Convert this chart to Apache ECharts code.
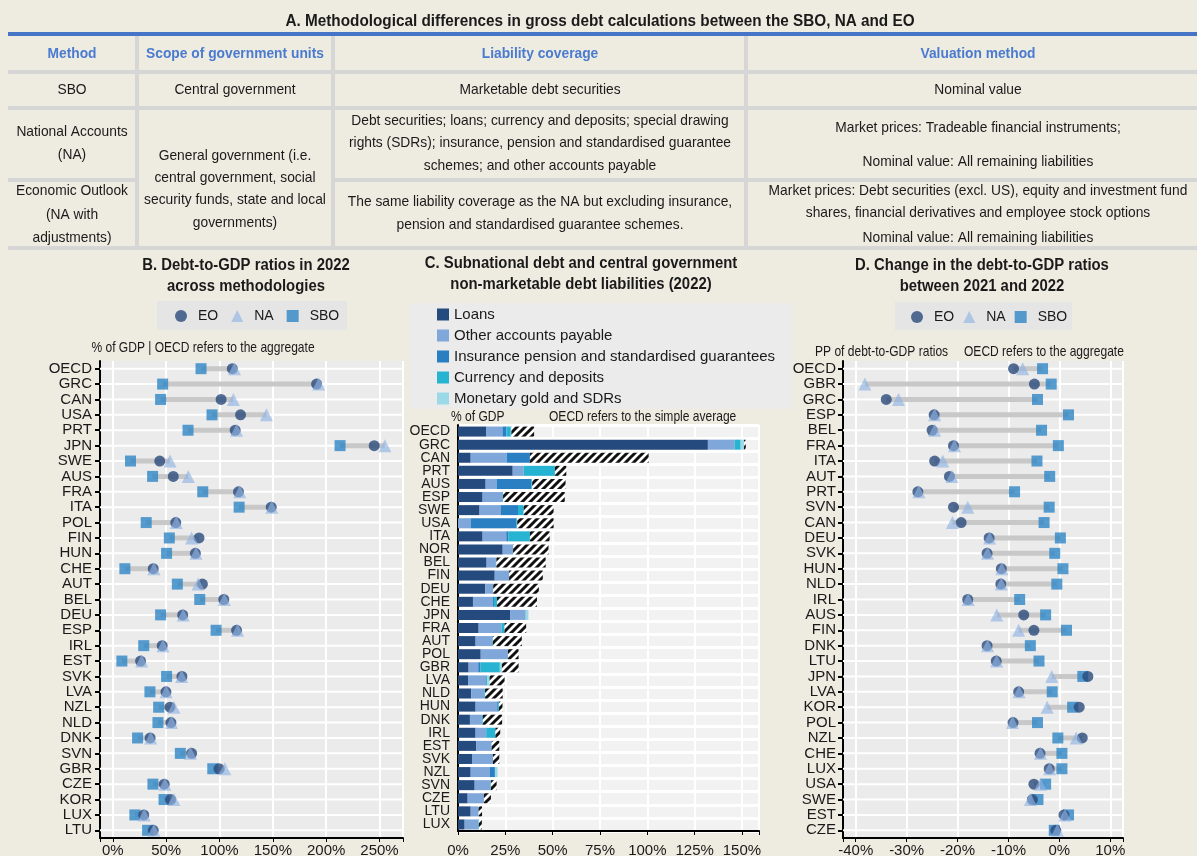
<!DOCTYPE html>
<html>
<head>
<meta charset="utf-8">
<script src="https://cdn.jsdelivr.net/npm/echarts@6/dist/echarts.min.js"></script>
<style>
html, body { margin: 0; padding: 0; background: #eeebe1; }
#main { width: 1197px; height: 856px; }
</style>
</head>
<body>
<div id="main"></div>
<script>
// panel B: debt-to-GDP ratios 2022, % of GDP
var bCats = ['OECD','GRC','CAN','USA','PRT','JPN','SWE','AUS','FRA','ITA','POL','FIN','HUN','CHE','AUT','BEL','DEU','ESP','IRL','EST','SVK','LVA','NZL','NLD','DNK','SVN','GBR','CZE','KOR','LUX','LTU'];
var bEO  = [112,191,101.5,119.7,114.7,245,44,56.7,117.8,148.5,59,80.8,77.4,37.9,84,104,65.5,116,46.3,26,64.8,49.8,53.6,54.5,35,73.9,99.6,48.2,54.2,29,37.9];
var bNA  = [114,193,113,144,116,255,53.6,70.8,119,149,59.5,73.9,78,38.5,80,104.5,66,117,47,27,64.5,50,57.3,55,35.5,72.7,105,48.8,57.3,29.5,38.5];
var bSBO = [82.7,46.7,44.8,93,70.5,213,16.6,37.3,84.3,118.4,31.3,53,50.4,11.3,60.5,81.5,44.8,96.8,29,8.5,50.4,34.8,43,42.3,23.2,63.3,93.7,37.6,48,20.7,32.6];

// panel C: subnational debt and non-marketable liabilities, % of GDP
var cCats = ['OECD','GRC','CAN','PRT','AUS','ESP','SWE','USA','ITA','NOR','BEL','FIN','DEU','CHE','JPN','FRA','AUT','POL','GBR','LVA','NLD','HUN','DNK','IRL','EST','SVK','NZL','SVN','CZE','LTU','LUX'];
var cLoans     = [15,132,6.7,28.9,14.6,13,11.4,0,13,23.6,15.1,19.4,14.4,7.9,27.5,10.9,9.3,12,5.6,5.3,7,9.3,6.3,9.3,9.7,7.4,6.7,8.8,5.1,6.7,3.5];
var cOther     = [8.5,14.1,19,5.8,5.8,10.4,11.1,6.7,12.5,5.5,4.9,7.6,4.2,10.6,8.3,12.1,8.8,14.4,5.1,9.5,6.9,11.4,6.3,5.6,8.1,11.1,10.2,8.3,8.6,4.2,7.2];
var cInsurance = [2.1,0,12.3,0,18.3,0,9.2,24.1,1.2,0,0,0,0,0.5,0,0,0,0,1.2,0,0,0.4,0,0,0,0,2.6,0,0,0,0];
var cCurrency  = [2.3,3.2,0,16.5,0.5,0.4,3,0.5,11.3,0,0.3,0,0,1.6,0,1.6,0.3,0,10.2,0.5,0.4,0.5,0.5,4.9,0,0,0,0.3,0,0,0.3];
var cGold      = [0.3,1.8,0,0,0,0,0,0,0,0,0,0,0,0,1.4,0,0,0,1.1,1.4,0,0,0,0,0,0,1.4,0,0,0,0];
var cSubnat    = [12,0.9,62.7,6,17.6,32.6,15.8,19.2,10.4,18.7,26,17.8,24.1,21.1,0,11.4,15.3,5.6,8.8,7.9,9.3,1.9,10.2,2.5,4,3.3,0,3,3.7,1.8,1.6];

// panel D: change 2021-2022, pp
var dCats = ['OECD','GBR','GRC','ESP','BEL','FRA','ITA','AUT','PRT','SVN','CAN','DEU','SVK','HUN','NLD','IRL','AUS','FIN','DNK','LTU','JPN','LVA','KOR','POL','NZL','CHE','LUX','USA','SWE','EST','CZE'];
var dEO  = [-9,-4.9,-34,-24.6,-25,-20.8,-24.5,-21.6,-27.8,-20.8,-19.3,-13.8,-14.2,-11.4,-11.5,-18,-7,-5,-14.2,-12.4,5.6,-8,3.9,-9.1,4.5,-3.8,-2,-5,-5.3,0.9,-0.7];
var dNA  = [-7.2,-38.2,-31.6,-24.5,-24.5,-20.6,-22.9,-21.1,-27.6,-18,-21,-13.7,-14.1,-11.3,-11.4,-17.9,-12.3,-8,-14.1,-12.3,-1.5,-7.9,-2.4,-9.2,3.3,-3.7,-1.9,-3.7,-5.7,1.1,-0.4];
var dSBO = [-3.3,-1.6,-4.3,1.8,-3.5,-0.2,-4.4,-1.9,-8.8,-2,-3,0.2,-0.9,0.7,-0.5,-7.8,-2.7,1.4,-5.7,-4,4.6,-1.4,2.6,-4.3,-0.3,0.5,0.5,-2.7,-4.2,1.8,-1];

var FR = '"Liberation Sans", Arial, sans-serif';
var INK = '#1a1a1a';
var COL = { eo: '#2b4a7c', na: 'rgba(142,178,226,0.8)', sbo: '#2f86c5',
            loans: '#254a7e', other: '#7fa7da', ins: '#2a7fc3', cur: '#27b4d3', gold: '#9ad9e8' };

// black/white diagonal hatch for the subnational part
var hc = document.createElement('canvas');
hc.width = 8; hc.height = 8;
var g = hc.getContext('2d');
g.fillStyle = '#fff'; g.fillRect(0, 0, 8, 8);
g.strokeStyle = '#111'; g.lineWidth = 3;
g.beginPath();
g.moveTo(-2, 2); g.lineTo(2, -2);
g.moveTo(-2, 10); g.lineTo(10, -2);
g.moveTo(6, 10); g.lineTo(10, 6);
g.stroke();

function pctEvery(step) {
    return function (v) {
        var r = Math.round(v);
        return (Math.abs(v - r) < 1e-6 && r % step === 0) ? r + '%' : '';
    };
}

// white row line + grey connector between lowest and highest value
function rangeSeries(idx, cats, a, b, c) {
    return {
        type: 'custom', xAxisIndex: idx, yAxisIndex: idx, silent: true, z: 2,
        data: cats.map(function (k, i) {
            return [Math.min(a[i], b[i], c[i]), k, Math.max(a[i], b[i], c[i])];
        }),
        renderItem: function (params, api) {
            var p0 = api.coord([api.value(0), api.value(1)]);
            var p1 = api.coord([api.value(2), api.value(1)]);
            var cs = params.coordSys;
            return { type: 'group', children: [
                { type: 'line', shape: { x1: cs.x, y1: p0[1], x2: cs.x + cs.width, y2: p0[1] }, style: { stroke: '#fff', lineWidth: 2 } },
                { type: 'line', shape: { x1: p0[0], y1: p0[1], x2: p1[0], y2: p1[1] }, style: { stroke: '#c8c8c8', lineWidth: 5 } }
            ]};
        }
    };
}

function dotSeries(idx, name, vals, cats, symbol, size, color) {
    return {
        type: 'scatter', name: name, xAxisIndex: idx, yAxisIndex: idx, silent: true, z: 3,
        symbol: symbol, symbolSize: size, itemStyle: { color: color },
        data: vals.map(function (v, i) { return [v, cats[i]]; })
    };
}

function barSeries(name, vals, color) {
    return { type: 'bar', name: name, xAxisIndex: 1, yAxisIndex: 1, stack: 'c', barWidth: 10,
             silent: true, itemStyle: { color: color }, data: vals };
}

function valueAxis(gi, min, max, step, margin, interval) {
    var ax = {
        gridIndex: gi, type: 'value', min: min, max: max,
        axisLine: { show: true, onZero: false, lineStyle: { color: '#000', width: 2 } },
        axisTick: { show: true, length: 4, lineStyle: { color: '#000' } },
        splitLine: { show: true, lineStyle: { color: '#fff', width: 2 } },
        axisLabel: { formatter: pctEvery(step), margin: margin, fontSize: 15, fontFamily: FR, color: INK }
    };
    if (interval) ax.interval = interval; else ax.splitNumber = 5;
    return ax;
}

function catAxis(gi, cats, ticks, size, margin) {
    return {
        gridIndex: gi, type: 'category', data: cats, inverse: true,
        axisLine: { show: true, onZero: false, lineStyle: { color: '#000', width: 2 } },
        axisTick: { show: ticks, alignWithLabel: true, length: 5, lineStyle: { color: '#000', width: 2 } },
        axisLabel: { fontSize: size, fontFamily: FR, color: INK, margin: margin, interval: 0 },
        splitLine: { show: gi === 1, interval: 0, lineStyle: { color: '#fff', width: 3 } }
    };
}

// ---- static layout: table, titles, legend boxes
var G = [];
function rect(x, y, w, h, fill) {
    G.push({ type: 'rect', silent: true, z: 0, shape: { x: x, y: y, width: w, height: h }, style: { fill: fill } });
}
// text squeezed horizontally (the source uses a condensed face)
function txt(x, y, s, opt, sx) {
    var st = { text: s, fill: INK, fontSize: 15, fontFamily: FR, align: 'center', verticalAlign: 'middle' };
    for (var k in (opt || {})) st[k] = opt[k];
    G.push({ type: 'text', silent: true, z: 10, x: x, y: y, scaleX: sx || 0.92, style: st });
}

rect(8, 32, 1189, 4, '#4674c6');
rect(8, 70, 1189, 4, '#d6d6d6');
rect(8, 106, 1189, 4, '#d6d6d6');
rect(8, 178, 127, 4, '#d6d6d6');
rect(335, 178, 862, 4, '#d6d6d6');
rect(8, 246, 1189, 4, '#d6d6d6');
rect(135, 36, 4, 214, '#d6d6d6');
rect(331, 36, 4, 214, '#d6d6d6');
rect(744, 36, 4, 214, '#d6d6d6');

var c1 = 72, c2 = 235, c3 = 540, c4 = 978;
txt(600, 21, 'A. Methodological differences in gross debt calculations between the SBO, NA and EO', { fontWeight: 'bold', fontSize: 17 }, 0.9);
var head = { fill: '#4a7bd0', fontWeight: 'bold', fontSize: 15 };
txt(c1, 54, 'Method', head);
txt(c2, 54, 'Scope of government units', head);
txt(c3, 54, 'Liability coverage', head);
txt(c4, 54, 'Valuation method', head);
txt(c1, 90, 'SBO');
txt(c2, 90, 'Central government');
txt(c3, 90, 'Marketable debt securities');
txt(c4, 90, 'Nominal value');
txt(c1, 143.5, 'National Accounts\n(NA)', { lineHeight: 23 });
txt(c3, 143, 'Debt securities; loans; currency and deposits; special drawing\nrights (SDRs); insurance, pension and standardised guarantee\nschemes; and other accounts payable', { lineHeight: 22.5 });
txt(c4, 128, 'Market prices: Tradeable financial instruments;');
txt(c4, 162, 'Nominal value: All remaining liabilities');
txt(c2, 189, 'General government (i.e.\ncentral government, social\nsecurity funds, state and local\ngovernments)', { lineHeight: 22.4 });
txt(c1, 214.5, 'Economic Outlook\n(NA with\nadjustments)', { lineHeight: 23.5 });
txt(c3, 213.5, 'The same liability coverage as the NA but excluding insurance,\npension and standardised guarantee schemes.', { lineHeight: 23 });
txt(c4, 202, 'Market prices: Debt securities (excl. US), equity and investment fund\nshares, financial derivatives and employee stock options', { lineHeight: 22 });
txt(c4, 238, 'Nominal value: All remaining liabilities');

var ttl = { fontWeight: 'bold', fontSize: 16, lineHeight: 20.5 };
txt(246, 276, 'B. Debt-to-GDP ratios in 2022\nacross methodologies', ttl, 0.93);
txt(581, 274, 'C. Subnational debt and central government\nnon-marketable debt liabilities (2022)', ttl, 0.93);
txt(982, 276, 'D. Change in the debt-to-GDP ratios\nbetween 2021 and 2022', ttl, 0.93);

var sub = { fontSize: 14.5 };
var subL = { fontSize: 14.5, align: 'left' };
txt(203, 348, '% of GDP | OECD refers to the aggregate', sub, 0.83);
txt(451, 417, '% of GDP', subL, 0.83);
txt(549, 417, 'OECD refers to the simple average', subL, 0.83);
txt(815, 352, 'PP of debt-to-GDP ratios', subL, 0.83);
txt(964, 352, 'OECD refers to the aggregate', subL, 0.83);

rect(157, 301, 190, 29, '#e5e5e5');
rect(895, 302, 177, 28, '#e5e5e5');
rect(410, 303, 382, 106, '#ebebeb');

function dotLegend(left, top, gap) {
    return {
        data: ['EO', 'NA', 'SBO'], selectedMode: false, left: left, top: top,
        itemWidth: 12, itemHeight: 12, itemGap: gap,
        textStyle: { fontSize: 14, fontFamily: FR, color: INK, padding: [0, 0, 0, 6] }
    };
}

var option = {
    backgroundColor: '#eeebe1',
    animation: false,
    graphic: G,
    legend: [
        dotLegend(170, 304, 13),
        dotLegend(906, 305, 9),
        {
            data: ['Loans', 'Other accounts payable', 'Insurance pension and standardised guarantees',
                   'Currency and deposits', 'Monetary gold and SDRs'],
            orient: 'vertical', left: 432, top: 302, selectedMode: false, icon: 'rect',
            itemWidth: 12, itemHeight: 12, itemGap: 6,
            textStyle: { fontSize: 15, fontFamily: FR, color: INK }
        }
    ],
    grid: [
        { left: 100, top: 361, width: 303, height: 477, show: true, backgroundColor: '#ebebeb', borderWidth: 0, outerBoundsMode: 'none' },
        { left: 458, top: 425, width: 301, height: 406, show: true, backgroundColor: '#f2f2f2', borderWidth: 0, outerBoundsMode: 'none' },
        { left: 843, top: 361, width: 280, height: 477, show: true, backgroundColor: '#ebebeb', borderWidth: 0, outerBoundsMode: 'none' }
    ],
    xAxis: [
        valueAxis(0, -12, 272, 50, 5),
        valueAxis(1, 0, 159, 25, 12, 25),
        valueAxis(2, -42.5, 12.5, 10, 5)
    ],
    yAxis: [
        catAxis(0, bCats, true, 15, 8),
        catAxis(1, cCats, false, 14, 8),
        catAxis(2, dCats, true, 15, 7)
    ],
    series: [
        rangeSeries(0, bCats, bEO, bNA, bSBO),
        dotSeries(0, 'SBO', bSBO, bCats, 'rect', 11, COL.sbo),
        dotSeries(0, 'EO', bEO, bCats, 'circle', 11, COL.eo),
        dotSeries(0, 'NA', bNA, bCats, 'triangle', 13, COL.na),
        barSeries('Loans', cLoans, COL.loans),
        barSeries('Other accounts payable', cOther, COL.other),
        barSeries('Insurance pension and standardised guarantees', cInsurance, COL.ins),
        barSeries('Currency and deposits', cCurrency, COL.cur),
        barSeries('Monetary gold and SDRs', cGold, COL.gold),
        barSeries('Subnational debt', cSubnat, { image: hc, repeat: 'repeat' }),
        rangeSeries(2, dCats, dEO, dNA, dSBO),
        dotSeries(2, 'SBO', dSBO, dCats, 'rect', 11, COL.sbo),
        dotSeries(2, 'EO', dEO, dCats, 'circle', 11, COL.eo),
        dotSeries(2, 'NA', dNA, dCats, 'triangle', 13, COL.na)
    ]
};

var chart = echarts.init(document.getElementById('main'), null, { renderer: 'canvas' });
chart.setOption(option);
</script>
</body>
</html>
